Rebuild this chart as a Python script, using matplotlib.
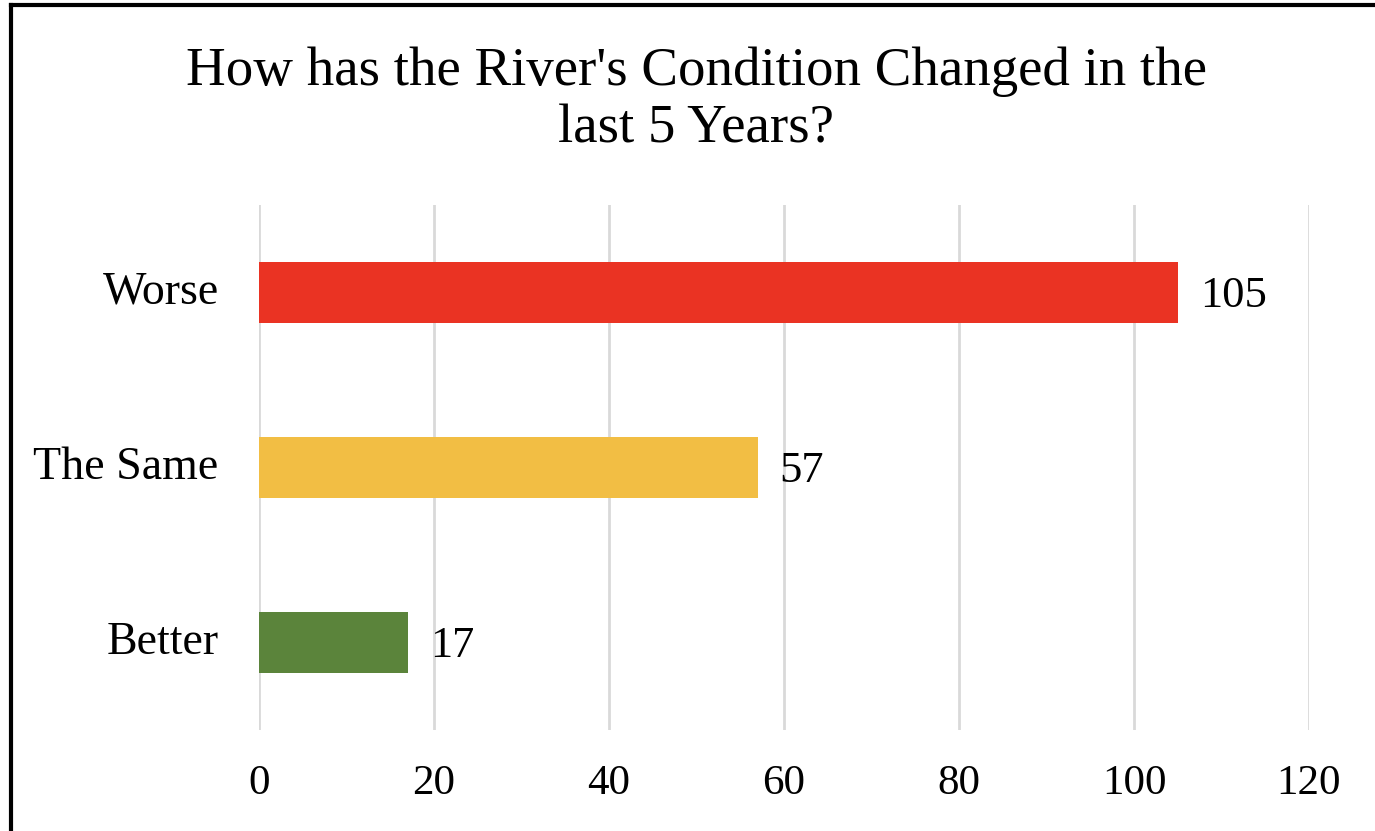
import matplotlib
matplotlib.use("Agg")
import matplotlib.pyplot as plt
from matplotlib.lines import Line2D
from matplotlib.transforms import ScaledTranslation

categories = ["Better", "The Same", "Worse"]
values = [17, 57, 105]
colors = ["#5B843B", "#F2BE44", "#EA3323"]
xticks = [0, 20, 40, 60, 80, 100, 120]
title_lines = ["How has the River's Condition Changed in the", "last 5 Years?"]

plt.rcParams['font.family'] = ['Liberation Serif', 'DejaVu Serif']

fig = plt.figure(figsize=(13.75, 8.31), dpi=100)
W, H = 1375, 831
ax = fig.add_axes([259 / W, 1 - 730 / H, 1050 / W, 525 / H])

y = list(range(len(categories)))
ax.barh(y, values, height=0.35, color=colors, zorder=3)
for yi, v in zip(y, values):
    ax.text(v + 2.5, yi - 0.02, str(v), va='center', ha='left', fontsize=32, color='#000000')

ax.set_xlim(0, 120)
ax.set_ylim(-0.5, 2.5)
ax.set_xticks(xticks)
ax.set_xticklabels([str(t) for t in xticks], fontsize=31)
ax.set_yticks(y)
ax.set_yticklabels(categories, fontsize=33)
shift = ScaledTranslation(0, -4 / 100, fig.dpi_scale_trans)
for lab in ax.get_yticklabels():
    lab.set_verticalalignment('center')
    lab.set_transform(lab.get_transform() + shift)
ax.tick_params(axis='both', length=0)
ax.tick_params(axis='x', pad=25)
ax.tick_params(axis='y', pad=29)
ax.grid(axis='x', color='#D9D9D9', linewidth=2, zorder=0)
for s in ax.spines.values():
    s.set_visible(False)

fig.text(696 / W, 1 - 72 / H, title_lines[0], ha='center', va='center', fontsize=39.5)
fig.text(696 / W, 1 - 129 / H, title_lines[1], ha='center', va='center', fontsize=39.5)

# figure border (left and top only visible)
fig.add_artist(Line2D([10.5 / W, 10.5 / W], [0, 1 - 4.5 / H], transform=fig.transFigure,
                      color='black', linewidth=3))
fig.add_artist(Line2D([10.5 / W, 1], [1 - 4.5 / H, 1 - 4.5 / H], transform=fig.transFigure,
                      color='black', linewidth=3))

fig.savefig("out.png", dpi=100)
